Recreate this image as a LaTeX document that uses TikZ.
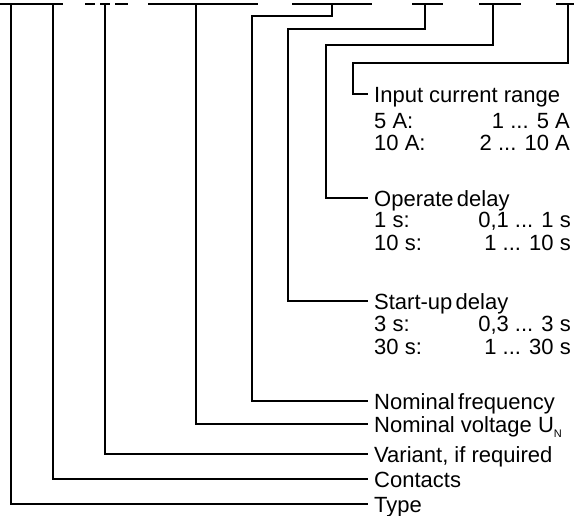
\documentclass[tikz,border=0pt]{standalone}
\usepackage{fontspec}
\setmainfont{Liberation Sans}
\begin{document}
\begin{tikzpicture}[x=1pt,y=-1pt,
  wire/.style={line width=1.1pt, line join=miter, line cap=rect},
  uline/.style={line width=1.3pt},
  lbl/.style={anchor=west, inner xsep=7pt, inner ysep=0pt, text height=17pt, text depth=0pt, font=\fontsize{22}{26}\selectfont},
  key/.style={anchor=base west, inner sep=0pt, font=\fontsize{22}{26}\selectfont},
  rng/.style={anchor=base east, inner sep=0pt, font=\fontsize{22}{26}\selectfont},
]
\useasboundingbox (0,0) rectangle (574,516);
% underlines of the (cut off) type code
\draw[uline] (0,4) -- (63,4);
\draw[uline] (85,4) -- (95,4);
\draw[uline] (100,4) -- (110,4);
\draw[uline] (115,4) -- (128,4);
\draw[uline] (148,4) -- (258,4);
\draw[uline] (292,4) -- (372,4);
\draw[uline] (412,4) -- (443,4);
\draw[uline] (479,4) -- (521,4);
\draw[uline] (556,4) -- (574,4);
% top ends
\coordinate (tType) at (11,5);
\coordinate (tCont) at (53,5);
\coordinate (tVar) at (105,5);
\coordinate (tVolt) at (196,5);
\coordinate (tFreq) at (332,5);
\coordinate (cFreq) at (252,16);
\coordinate (tStart) at (425,5);
\coordinate (cStart) at (288,29);
\coordinate (tOper) at (493,5);
\coordinate (cOper) at (326,45);
\coordinate (tInp) at (568,5);
\coordinate (cInp) at (353,63);
% labels
\node[lbl] (inp) at (367,94) {Input current range};
\node[key] (inpA) at (374,128.5) {5 A:};
\node[rng] (inpAv) at (570,128.5) {1 ... 5 A};
\node[key] (inpB) at (374,151) {10 A:};
\node[rng] (inpBv) at (570,151) {2 ... 10 A};
\node[lbl] (oper) at (367,198) {Operate\hspace{0.15em}delay};
\node[key] (operA) at (374,228) {1 s:};
\node[rng] (operAv) at (571,228) {0,1 ... 1 s};
\node[key] (operB) at (374,250.5) {10 s:};
\node[rng] (operBv) at (571,250.5) {1 ... 10 s};
\node[lbl] (start) at (367,301) {Start-up\hspace{0.15em}delay};
\node[key] (startA) at (374,331.5) {3 s:};
\node[rng] (startAv) at (571,331.5) {0,3 ... 3 s};
\node[key] (startB) at (374,354.5) {30 s:};
\node[rng] (startBv) at (571,354.5) {1 ... 30 s};
\node[lbl] (freq) at (367,401) {Nominal\hspace{0.15em}frequency};
\node[lbl] (volt) at (367,424) {Nominal voltage U\raisebox{-0.45ex}{\fontsize{11}{11}\selectfont N}};
\node[lbl] (var) at (367,454) {Variant, if required};
\node[lbl] (cont) at (367,479) {Contacts};
\node[lbl] (type) at (367,504) {Type};
% connectors
\draw[wire] (tInp) |- (cInp) |- (inp.west);
\draw[wire] (tOper) |- (cOper) |- (oper.west);
\draw[wire] (tStart) |- (cStart) |- (start.west);
\draw[wire] (tFreq) |- (cFreq) |- (freq.west);
\draw[wire] (tVolt) |- (volt.west);
\draw[wire] (tVar) |- (var.west);
\draw[wire] (tCont) |- (cont.west);
\draw[wire] (tType) |- (type.west);
\end{tikzpicture}
\end{document}
